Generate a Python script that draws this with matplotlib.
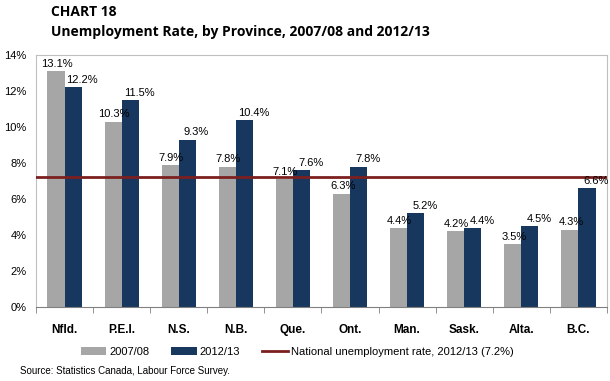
import numpy as np
import matplotlib.pyplot as plt

provinces = ['Nfld.', 'P.E.I.', 'N.S.', 'N.B.', 'Que.', 'Ont.', 'Man.', 'Sask.', 'Alta.', 'B.C.']
rate_0708 = [13.1, 10.3, 7.9, 7.8, 7.1, 6.3, 4.4, 4.2, 3.5, 4.3]
rate_1213 = [12.2, 11.5, 9.3, 10.4, 7.6, 7.8, 5.2, 4.4, 4.5, 6.6]
national_rate = 7.2
yticks = [0, 2, 4, 6, 8, 10, 12, 14]

GRAY = '#A6A6A6'
NAVY = '#17375E'
RED = '#7B1F1F'

plt.rcParams['font.family'] = ['Liberation Sans', 'DejaVu Sans']

fig = plt.figure(figsize=(6.1, 3.81), dpi=100)
ax = fig.add_axes([0.059, 0.194, 0.936, 0.662])

x = np.arange(len(provinces))
w = 0.3
b1 = ax.bar(x - w / 2, rate_0708, w, color=GRAY, label='2007/08', zorder=2)
b2 = ax.bar(x + w / 2, rate_1213, w, color=NAVY, label='2012/13', zorder=2)
ln = ax.axhline(national_rate, color=RED, lw=2, zorder=3,
                label='National unemployment rate, 2012/13 (7.2%)')

# navy labels sit a little right of their bars, as in the original
for bars, vals, dx in ((b1, rate_0708, 0.02), (b2, rate_1213, 0.16)):
    for rect, v in zip(bars, vals):
        ax.text(rect.get_x() + rect.get_width() / 2 + dx, v + 0.12, f'{v:.1f}%',
                ha='center', va='bottom', fontsize=8, zorder=4)

ax.set_xlim(-0.5, len(provinces) - 0.5)
ax.set_ylim(0, 14)
ax.set_yticks(yticks)
ax.set_yticklabels([f'{t}%' for t in yticks], fontsize=8)
ax.tick_params(axis='y', length=0, pad=7)

ax.set_xticks(x)
ax.set_xticklabels(provinces, fontsize=8.5, fontweight='bold')
ax.set_xticks(np.arange(-0.5, len(provinces)), minor=True)
ax.tick_params(axis='x', which='major', length=0, pad=12)
ax.tick_params(axis='x', which='minor', length=4, color='#808080')

for s in ax.spines.values():
    s.set_color('#BFBFBF')
    s.set_linewidth(0.8)
ax.spines['bottom'].set_color('#808080')

fig.text(0.084, 0.968, 'CHART 18', fontsize=10, fontweight='bold', va='center',
         family='Open Sans')
fig.text(0.084, 0.915, 'Unemployment Rate, by Province, 2007/08 and 2012/13',
         fontsize=10, fontweight='bold', va='center', family='Open Sans')

fig.legend(handles=[b1, b2, ln], loc='center', bbox_to_anchor=(0.487, 0.076), ncol=3,
           frameon=False, fontsize=8, handlelength=2.3, handletextpad=0.25,
           columnspacing=2.0)

fig.text(0.033, 0.025, 'Source: Statistics Canada, Labour Force Survey.', fontsize=7,
         va='center')

fig.savefig('out.png', dpi=100)
